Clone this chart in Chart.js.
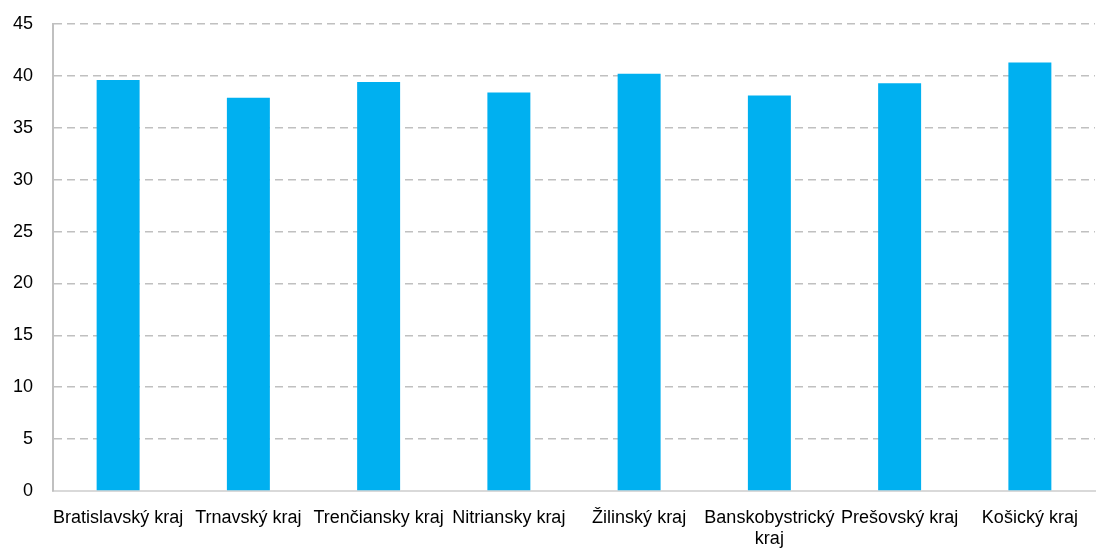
<!DOCTYPE html>
<html>
<head>
<meta charset="utf-8">
<script src="https://cdn.jsdelivr.net/npm/chart.js@4"></script>
<style>
  html, body { margin: 0; padding: 0; background: #fff; }
  #wrap { width: 1100px; height: 549px; }
</style>
</head>
<body>
<div id="wrap"><canvas id="regionChart"></canvas></div>
<script>
// Regions (labels) and values
const regions = [
    "Bratislavský kraj",
    "Trnavský kraj",
    "Trenčiansky kraj",
    "Nitriansky kraj",
    "Žilinský kraj",
    ["Banskobystrický", "kraj"],
    "Prešovský kraj",
    "Košický kraj"
];
const values = [39.6, 37.9, 39.4, 38.4, 40.2, 38.1, 39.3, 41.3];
const yTicks = [0, 5, 10, 15, 20, 25, 30, 35, 40, 45];

const fontFamily = "'Liberation Sans', Arial, sans-serif";

const ctx = document.getElementById("regionChart").getContext("2d");
new Chart(ctx, {
    type: "bar",
    data: {
        labels: regions,
        datasets: [{
            label: "Hodnota",
            data: values,
            backgroundColor: "#00B0F0",
            borderWidth: 0,
            categoryPercentage: 1,
            barPercentage: 0.33
        }]
    },
    options: {
        responsive: true,
        maintainAspectRatio: false,
        animation: false,
        layout: { padding: { top: 24, right: 5, left: 0, bottom: 0 } },
        plugins: {
            legend: { display: false },
            tooltip: { enabled: false }
        },
        scales: {
            x: {
                grid: { display: false },
                border: { display: true, color: "#d9d9d9", width: 2 },
                ticks: {
                    color: "#000",
                    font: { family: fontFamily, size: 18 },
                    padding: 8,
                    maxRotation: 0,
                    autoSkip: false
                },
                afterFit: scale => {
                    scale.height = 58;
                    scale.paddingLeft = 0;
                    scale.paddingRight = 0;
                }
            },
            y: {
                min: 0,
                max: 45,
                afterBuildTicks: scale => {
                    scale.ticks = yTicks.map(v => ({ value: v }));
                },
                grid: {
                    color: "#c0c0c0",
                    lineWidth: 1.5,
                    drawTicks: false
                },
                border: { display: true, color: "#c0c0c0", width: 2, dash: [8, 5] },
                ticks: {
                    color: "#000",
                    font: { family: fontFamily, size: 18 },
                    padding: 20
                },
                afterFit: scale => {
                    scale.width = 53;
                    scale.paddingTop = 0;
                    scale.paddingBottom = 0;
                }
            }
        }
    }
});
</script>
</body>
</html>
